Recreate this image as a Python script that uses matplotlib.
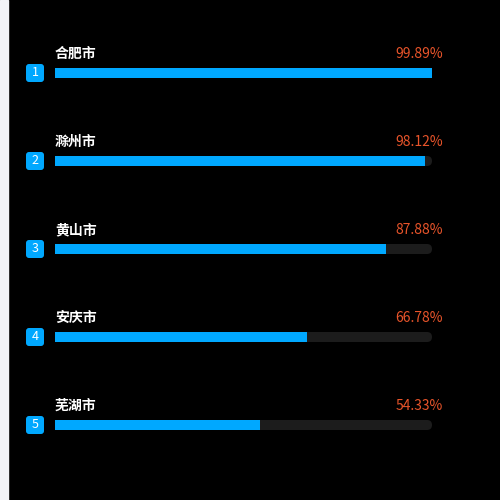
import matplotlib.pyplot as plt
from matplotlib.patches import FancyBboxPatch, Rectangle

plt.rcParams['font.family'] = ['Noto Sans CJK SC', 'DejaVu Sans']

cities = ['合肥市', '滁州市', '黄山市', '安庆市', '芜湖市']
rates = [99.89, 98.12, 87.88, 66.78, 54.33]

fig = plt.figure(figsize=(5, 5), dpi=100)
ax = fig.add_axes([0, 0, 1, 1])
ax.set_xlim(0, 500)
ax.set_ylim(500, 0)
ax.axis('off')
ax.add_patch(Rectangle((0, 0), 500, 500, color='#000000'))
ax.add_patch(Rectangle((0, 0), 8, 500, color='#f2f3f7'))

x0, x1 = 55, 432
for i, (name, r) in enumerate(zip(cities, rates)):
    yc = 73 + i * 88
    ax.add_patch(FancyBboxPatch((x0, yc - 5), x1 - x0, 10,
                                boxstyle='round,pad=0,rounding_size=5',
                                fc='#1c1c1c', ec='none'))
    ax.add_patch(Rectangle((x0, yc - 5), (x1 - x0) * r / 100, 10,
                           fc='#00a8ff', ec='none'))
    ax.add_patch(FancyBboxPatch((26, yc - 9), 18, 18,
                                boxstyle='round,pad=0,rounding_size=3',
                                fc='#00a8ff', ec='none'))
    ax.text(35, yc, str(i + 1), color='white', fontsize=9,
            ha='center', va='center')
    ax.text(x0, yc - 19, name, color='white', fontsize=10,
            ha='left', va='center', fontweight='bold')
    ax.text(443, yc - 19, f'{r:.2f}%', color='#e8542a', fontsize=10,
            ha='right', va='center')

fig.savefig('out.png', dpi=100, facecolor='black')
